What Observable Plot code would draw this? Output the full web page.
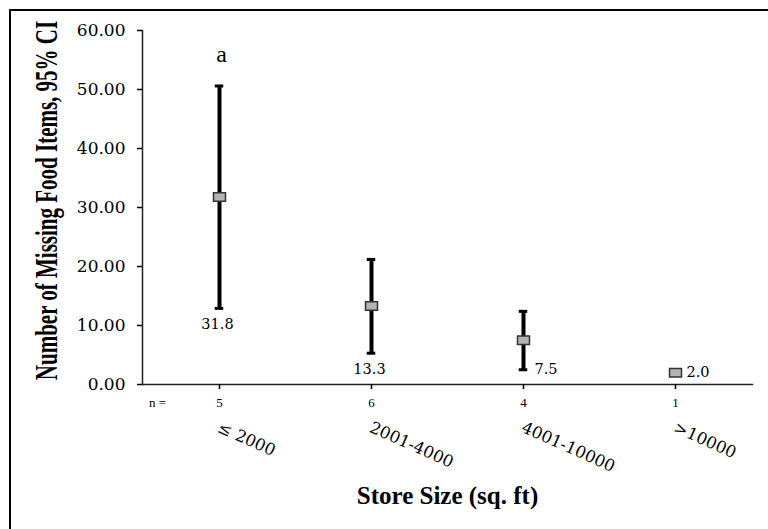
<!DOCTYPE html>
<html>
<head>
<meta charset="utf-8">
<script src="https://cdn.jsdelivr.net/npm/d3@7"></script>
<script src="https://cdn.jsdelivr.net/npm/@observablehq/plot@0.6"></script>
<style>
  html, body { margin: 0; padding: 0; background: #fff; overflow: hidden; }
  #wrap { position: relative; width: 768px; height: 529px; }
  #border { position: absolute; left: 9px; top: 9px; width: 800px; height: 600px;
            border-top: 2.5px solid #000; border-left: 2.5px solid #000; pointer-events: none; }
</style>
</head>
<body>
<div id="wrap"><div id="border"></div></div>
<script>
const categories = ["≤ 2000", "2001-4000", "4001-10000", ">10000"];
const means = [31.8, 13.3, 7.5, 2.0];
const lower = [12.9, 5.3, 2.5, null];
const upper = [50.6, 21.2, 12.4, null];
const counts = [5, 6, 4, 1];
const letters = ["a", "", "", ""];
const valueLabels = ["31.8", "13.3", "7.5", "2.0"];
const yTicks = [0, 10, 20, 30, 40, 50, 60];

const data = categories.map((c, i) => ({
  cat: c, mean: means[i], lo: lower[i], hi: upper[i], n: counts[i],
  letter: letters[i], label: valueLabels[i]
}));
const withCI = data.filter(d => d.lo != null);
const below = data.slice(0, 2);
const beside = data.slice(2);

const rectSymbol = { draw(ctx) { ctx.rect(-6, -4.25, 12, 8.5); } };
const serif = "Liberation Serif, Times New Roman, serif";
const wide = "DejaVu Serif, serif";

const chart = Plot.plot({
  width: 768,
  height: 529,
  marginLeft: 142,
  marginRight: 16,
  marginTop: 30,
  marginBottom: 145,
  style: { fontFamily: serif, background: "#fff", color: "#000", overflow: "visible" },
  x: { type: "band", domain: categories, padding: 0 },
  y: { domain: [0, 60] },
  marks: [
    Plot.frame({ anchor: "left", stroke: "#222", strokeWidth: 1.5 }),
    Plot.frame({ anchor: "bottom", stroke: "#222", strokeWidth: 1.5 }),
    Plot.axisY({ ticks: yTicks, tickFormat: d3.format(".2f"), tickSize: 5, tickPadding: 12,
                 fontSize: 17, fontFamily: wide, label: null, strokeWidth: 1.5 }),
    Plot.axisX({ tickSize: 5, tickFormat: () => "", label: null, strokeWidth: 1.5 }),
    Plot.ruleX(withCI, { x: "cat", y1: "lo", y2: "hi", stroke: "#000", strokeWidth: 4 }),
    Plot.tickY(withCI, { x: "cat", y: "hi", stroke: "#000", strokeWidth: 3, insetLeft: 71.75, insetRight: 71.75 }),
    Plot.tickY(withCI, { x: "cat", y: "lo", stroke: "#000", strokeWidth: 3, insetLeft: 71.75, insetRight: 71.75 }),
    Plot.dot(data, { x: "cat", y: "mean", symbol: rectSymbol, fill: "#b3b3b3", stroke: "#333", strokeWidth: 1.5 }),
    Plot.text(below, { x: "cat", y: "lo", text: "label", dy: 16, dx: -2, fontSize: 14.5, fontFamily: wide }),
    Plot.text(beside, { x: "cat", y: d => d.lo ?? d.mean, text: "label", textAnchor: "start", dx: 11, fontSize: 14.5, fontFamily: wide }),
    Plot.text(data, { x: "cat", y: d => d.hi ?? d.mean, text: "letter", dy: -32, dx: 2, fontSize: 24, fontFamily: serif }),
    Plot.text(data, { x: "cat", text: d => String(d.n), frameAnchor: "bottom", dy: 22, fontSize: 13, fontFamily: serif }),
    Plot.text(["n ="], { frameAnchor: "bottom-left", textAnchor: "middle", dx: 15, dy: 22, fontSize: 13, fontFamily: serif }),
    Plot.text(data, { x: "cat", text: "cat", frameAnchor: "bottom", dy: 47, dx: -3, rotate: 24,
                      textAnchor: "start", fontSize: 16.5, fontFamily: wide }),
    Plot.text(["Store Size (sq. ft)"], { frameAnchor: "bottom", dy: 119, fontSize: 25, fontWeight: "bold", fontFamily: serif }),
    Plot.text(["Number of Missing Food Items, 95% CI"], { frameAnchor: "left", textAnchor: "middle", dx: -96, dy: -7, rotate: -90,
                      fontSize: 21, fontWeight: "bold", fontFamily: serif, className: "ytitle" })
  ]
});

chart.querySelectorAll(".ytitle text").forEach(t => {
  t.setAttribute("transform", (t.getAttribute("transform") || "") + " scale(1,1.5)");
});
document.getElementById("wrap").insertBefore(chart, document.getElementById("border"));
</script>
</body>
</html>
